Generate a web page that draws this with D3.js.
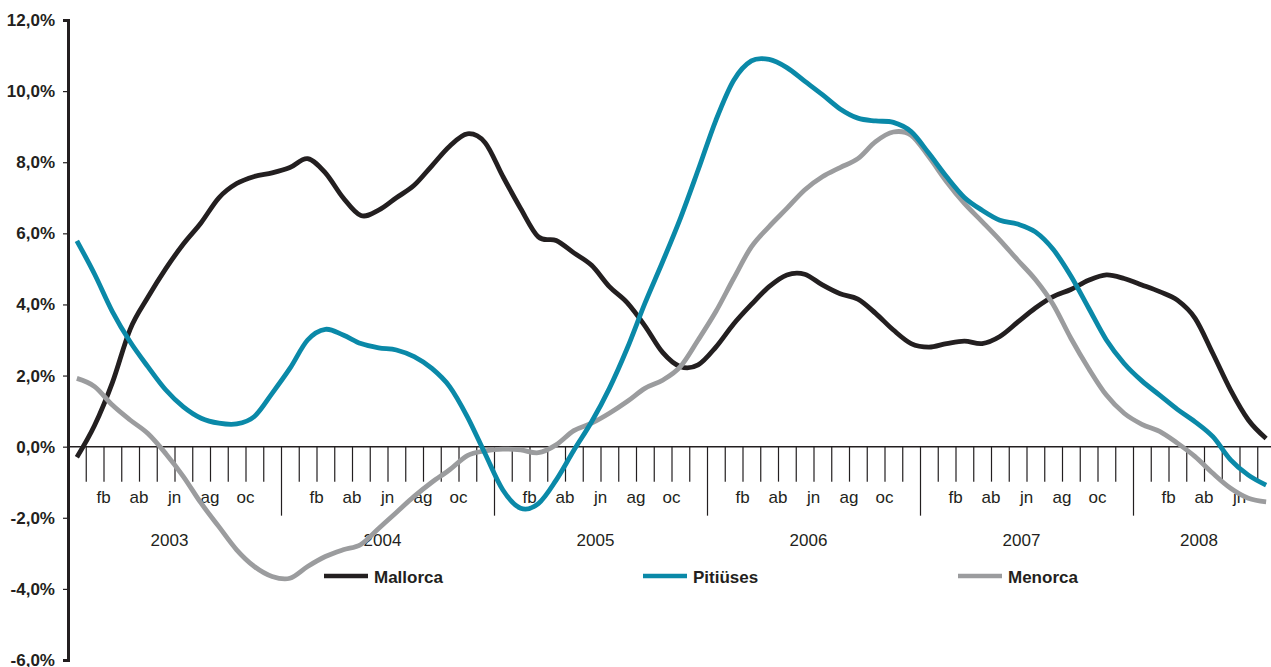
<!DOCTYPE html>
<html>
<head>
<meta charset="utf-8">
<script src="https://cdn.jsdelivr.net/npm/d3@7/dist/d3.min.js"></script>
<style>
  html, body { margin: 0; padding: 0; background: #ffffff; }
  svg { display: block; font-family: "Liberation Sans", Arial, sans-serif; }
</style>
</head>
<body>
<svg id="chart" width="1271" height="667"></svg>
<script>
// ---- data ----
const years = ["2003", "2004", "2005", "2006", "2007", "2008"];
const monthNames = ["en", "fb", "mr", "ab", "my", "jn", "jl", "ag", "st", "oc", "nv", "dc"];
const shownMonths = ["fb", "ab", "jn", "ag", "oc"];
const monthsInLastYear = 8;

const mallorca = [
  -0.3, 0.6, 1.8, 3.3, 4.2, 5.0, 5.7, 6.3, 7.0, 7.4, 7.6, 7.7,
  7.85, 8.1, 7.7, 7.0, 6.5, 6.65, 7.0, 7.35, 7.9, 8.45, 8.8, 8.55,
  7.6, 6.7, 5.9, 5.8, 5.45, 5.1, 4.5, 4.05, 3.4, 2.65, 2.25, 2.3,
  2.8, 3.45, 4.0, 4.5, 4.83, 4.85, 4.55, 4.3, 4.15, 3.75, 3.28, 2.9,
  2.8, 2.9, 2.97, 2.9, 3.1, 3.5, 3.9, 4.22, 4.42, 4.68, 4.83, 4.73,
  4.55, 4.36, 4.12, 3.61, 2.62, 1.59, 0.75, 0.23
];
const pitiuses = [
  5.79, 4.85, 3.8, 2.95, 2.25, 1.6, 1.12, 0.8, 0.66, 0.64, 0.85, 1.5,
  2.2, 3.0, 3.3, 3.14, 2.9, 2.78, 2.72, 2.53, 2.2, 1.69, 0.84, -0.2,
  -1.22, -1.73, -1.6, -0.94, -0.1, 0.7, 1.64, 2.76, 4.03, 5.2, 6.42, 7.78,
  9.18, 10.3, 10.85, 10.89, 10.66, 10.28, 9.9, 9.5, 9.24, 9.16, 9.12, 8.86,
  8.25, 7.59, 7.01, 6.65, 6.37, 6.26, 6.04, 5.55, 4.8, 3.9, 3.0, 2.34,
  1.85, 1.45, 1.05, 0.7, 0.28, -0.37, -0.8, -1.08
];
const menorca = [
  1.92, 1.69, 1.17, 0.75, 0.37, -0.19, -0.84, -1.59, -2.25, -2.9, -3.37, -3.65,
  -3.7, -3.37, -3.09, -2.9, -2.75, -2.3, -1.85, -1.4, -1.0, -0.65, -0.25, -0.12,
  -0.07, -0.09, -0.17, 0.05, 0.45, 0.66, 0.94, 1.27, 1.64, 1.87, 2.25, 3.0,
  3.8, 4.73, 5.62, 6.19, 6.7, 7.22, 7.59, 7.85, 8.1, 8.58, 8.85, 8.76,
  8.15, 7.45, 6.84, 6.33, 5.81, 5.25, 4.7, 4.0, 3.05, 2.2, 1.45, 0.94,
  0.63, 0.43, 0.1, -0.28, -0.75, -1.17, -1.45, -1.55
];
const seriesNames = ["Mallorca", "Pitiüses", "Menorca"];
const yTicks = [-6, -4, -2, 0, 2, 4, 6, 8, 10, 12];
const yTickLabels = ["-6,0%", "-4,0%", "-2,0%", "0,0%", "2,0%", "4,0%", "6,0%", "8,0%", "10,0%", "12,0%"];

(function () {
  // ---- categories ----
  const categories = [];
  years.forEach((yr, yi) => {
    const n = yi === years.length - 1 ? monthsInLastYear : 12;
    for (let m = 0; m < n; m++) categories.push({ year: yr, month: monthNames[m], mi: m });
  });
  const N = categories.length;

  // ---- layout ----
  const W = 1271;
  const plotLeft = 68, plotTop = 20, plotBottom = 660;
  const band = 17.75;
  const svg = d3.select("#chart");

  const xb = d3.scaleLinear().domain([0, N]).range([plotLeft, plotLeft + band * N]); // boundaries
  const xc = i => xb(i + 0.5);                                                      // centers
  const y = d3.scaleLinear().domain([-6, 12]).range([plotBottom, plotTop]);
  const y0 = y(0);
  const ink = "#231f20";

  // ---- y axis ----
  const yAxis = d3.axisLeft(y).tickValues(yTicks)
    .tickFormat((d, i) => yTickLabels[i]).tickSize(5).tickPadding(8);
  const gy = svg.append("g").attr("transform", `translate(${plotLeft},0)`).call(yAxis);
  gy.select(".domain").attr("stroke", ink).attr("stroke-width", 3);
  gy.selectAll(".tick line").attr("stroke", ink).attr("stroke-width", 1.2);
  gy.selectAll(".tick text").attr("fill", ink).attr("font-size", 17).attr("font-weight", "bold")
    .attr("font-family", "Liberation Sans, Arial, sans-serif");

  // ---- x axis ----
  const monthTickVals = d3.range(1, N).filter(k => k % 12 !== 0);
  const yearTickVals = d3.range(12, N, 12);

  svg.append("line").attr("x1", plotLeft).attr("x2", W).attr("y1", y0).attr("y2", y0)
    .attr("stroke", ink).attr("stroke-width", 1.5);

  const gxm = svg.append("g").attr("transform", `translate(0,${y0})`)
    .call(d3.axisBottom(xb).tickValues(monthTickVals).tickSize(35).tickFormat(""));
  gxm.select(".domain").remove();
  gxm.selectAll(".tick line").attr("stroke", ink).attr("stroke-width", 1.2);

  const gxy = svg.append("g").attr("transform", `translate(0,${y0})`)
    .call(d3.axisBottom(xb).tickValues(yearTickVals).tickSize(69).tickFormat(""));
  gxy.select(".domain").remove();
  gxy.selectAll(".tick line").attr("stroke", ink).attr("stroke-width", 1.2);

  // month labels
  svg.append("g").selectAll("text")
    .data(categories.map((c, i) => ({ ...c, i }))
      .filter(c => shownMonths.includes(c.month) && c.i + 1 < N))
    .join("text")
    .attr("x", d => xb(d.i + 1))
    .attr("y", y0 + 56.5)
    .attr("text-anchor", "middle")
    .attr("font-size", 17)
    .attr("fill", ink)
    .text(d => d.month);

  // year labels
  svg.append("g").selectAll("text")
    .data(years.map((yr, yi) => {
      const start = yi * 12;
      const end = Math.min(start + 12, N);
      return { yr, mid: (xb(start) + xb(end)) / 2 - 5 };
    }))
    .join("text")
    .attr("x", d => d.mid)
    .attr("y", y0 + 99)
    .attr("text-anchor", "middle")
    .attr("font-size", 17)
    .attr("fill", ink)
    .text(d => d.yr);

  // ---- lines ----
  const colors = { "Mallorca": "#231f20", "Pitiüses": "#0a89a8", "Menorca": "#9b9c9e" };
  const seriesData = { "Mallorca": mallorca, "Pitiüses": pitiuses, "Menorca": menorca };
  const line = d3.line().x((d, i) => xc(i)).y(d => y(d)).curve(d3.curveCardinal.tension(0));

  ["Mallorca", "Menorca", "Pitiüses"].forEach(name => {
    svg.append("path")
      .datum(seriesData[name])
      .attr("d", line)
      .attr("fill", "none")
      .attr("stroke", colors[name])
      .attr("stroke-width", 4.8)
      .attr("stroke-linejoin", "round");
  });

  // ---- legend ----
  const legendX = [324, 643, 958];
  const legendY = 576;
  const lg = svg.append("g").selectAll("g").data(seriesNames).join("g")
    .attr("transform", (d, i) => `translate(${legendX[i]},${legendY})`);
  lg.append("line").attr("x1", 0).attr("x2", 44).attr("y1", 0).attr("y2", 0)
    .attr("stroke", d => colors[d]).attr("stroke-width", 4.5);
  lg.append("text").attr("x", 50).attr("y", 6.5)
    .attr("font-size", 17).attr("font-weight", "bold").attr("fill", ink)
    .text(d => d);
})();
</script>
</body>
</html>
